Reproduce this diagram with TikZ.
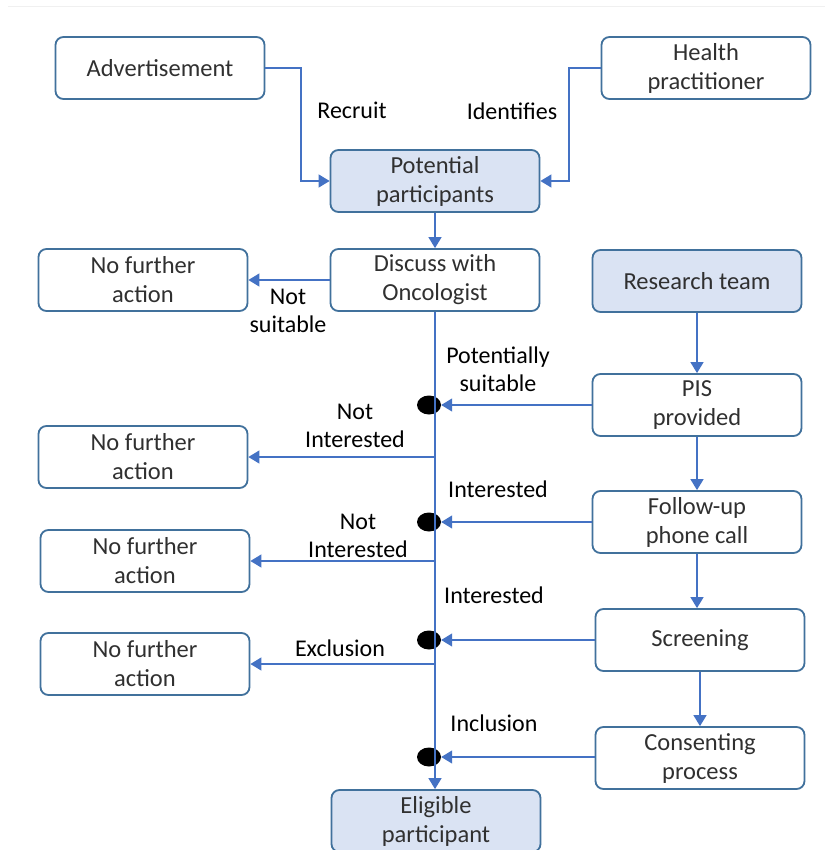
\documentclass[tikz,border=0pt]{standalone}
\usepackage{fontspec}
\setmainfont{Carlito}
\usetikzlibrary{arrows.meta,shapes.geometric}
\definecolor{boxline}{HTML}{41719C}
\definecolor{conncol}{HTML}{4472C4}
\definecolor{boxfill}{HTML}{DAE3F3}
\definecolor{boxtext}{HTML}{303030}
\tikzset{
  box/.style={draw=boxline, line width=1.8pt, rounded corners=8pt, fill=white,
    minimum width=209pt, minimum height=62pt, inner sep=0pt, align=center,
    text=boxtext, font=\fontsize{24.5}{29}\selectfont},
  hbox/.style={box, fill=boxfill},
  conn/.style={draw=conncol, line width=1.3pt},
  arr/.style={conn, -{Triangle[length=11pt,width=13pt]}},
  lbl/.style={align=center, text=black, font=\fontsize{24}{28}\selectfont, inner sep=0pt},
  dotnode/.style={ellipse, fill=black, minimum width=24pt, minimum height=19pt, inner sep=0pt}
}
\begin{document}
\begin{tikzpicture}[x=1pt,y=-1pt]
\clip (0,0) rectangle (825,850);
\fill[white] (0,0) rectangle (825,850);
\draw[black!6, line width=1pt] (8,7) -- (825,7);

% boxes
\node[box]  (adv)  at (160,68)  {Advertisement};
\node[box]  (hp)   at (706,68)  {Health\\practitioner};
\node[hbox] (pot)  at (435,181) {Potential\\participants};
\node[box]  (disc) at (435,280) {Discuss with\\Oncologist};
\node[box]  (nfa1) at (143,280) {No further\\action};
\node[hbox] (rt)   at (697,281) {Research team};
\node[box]  (pis)  at (697,405) {PIS\\provided};
\node[box]  (nfa2) at (143,457) {No further\\action};
\node[box]  (fu)   at (697,522) {Follow-up\\phone call};
\node[box]  (nfa3) at (145,561) {No further\\action};
\node[box]  (scr)  at (700,640) {Screening};
\node[box]  (nfa4) at (145,664) {No further\\action};
\node[box]  (cons) at (700,758) {Consenting\\process};
\node[hbox] (elig) at (436,821) {Eligible\\participant};

% dots
\node[dotnode] (d1) at (429,405) {};
\node[dotnode] (d2) at (429,522) {};
\node[dotnode] (d3) at (429,640) {};
\node[dotnode] (d4) at (429,757) {};

% coordinates for bends
\coordinate (c1) at (301,120);
\coordinate (c2) at (569,120);

% connectors
\draw[arr] (adv.east) -| (c1) |- (pot.west);
\draw[arr] (hp.west) -| (c2) |- (pot.east);
\draw[arr] (pot.south) -- (disc.north);
\draw[arr] (disc.west) -- (nfa1.east);
\draw[conn] (disc.south) -- (disc.south |- d4.south);
\draw[arr] (disc.south |- d4.south) -- (disc.south |- elig.north);
\draw[arr] (rt.south) -- (pis.north);
\draw[arr] (pis.south) -- (fu.north);
\draw[arr] (fu.south) -- (fu.south |- scr.north);
\draw[arr] (scr.south) -- (cons.north);
\draw[arr] (pis.west) -- (pis.west -| d1.east);
\draw[arr] (fu.west) -- (fu.west -| d2.east);
\draw[arr] (scr.west) -- (scr.west -| d3.east);
\draw[arr] (cons.west |- d4) -- (d4.east);
\draw[arr] (nfa2.east -| disc.south) -- (nfa2.east);
\draw[arr] (nfa3.east -| disc.south) -- (nfa3.east);
\draw[arr] (nfa4.east -| disc.south) -- (nfa4.east);

% labels
\node[lbl] (l1) at (352,110) {Recruit};
\node[lbl] (l2) at (512,111) {Identifies};
\node[lbl] (l3) at (288,311) {Not\\suitable};
\node[lbl] (l4) at (498,369) {Potentially\\suitable};
\node[lbl] (l5) at (355,426) {Not\\Interested};
\node[lbl] (l6) at (498,489) {Interested};
\node[lbl] (l7) at (358,536) {Not\\Interested};
\node[lbl] (l8) at (494,595) {Interested};
\node[lbl] (l9) at (340,648) {Exclusion};
\node[lbl] (l10) at (494,723) {Inclusion};
\end{tikzpicture}
\end{document}
